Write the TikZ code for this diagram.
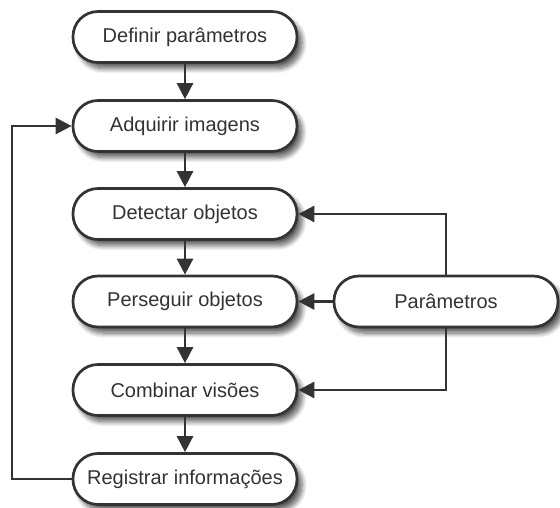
\documentclass[tikz,border=0pt]{standalone}
\usepackage{fontspec}
\setmainfont{Liberation Sans}
\usetikzlibrary{arrows.meta,shadows.blur}
\definecolor{ink}{HTML}{333333}
\tikzset{
  stepbox/.style={draw=ink, line width=2.7pt, fill=white,
    rounded corners=25pt, minimum width=224pt, minimum height=51pt,
    inner sep=0pt, text=ink, font=\fontsize{20}{23}\selectfont,
    blur shadow={shadow xshift=5pt, shadow yshift=-6pt,
      shadow blur steps=10, shadow blur radius=5pt, shadow opacity=65}},
  link/.style={draw=ink, line width=2.7pt,
    -{Triangle[length=16pt,width=16pt]}}
}
\begin{document}
\begin{tikzpicture}[x=1pt,y=-1pt]
  \useasboundingbox (0,0) rectangle (560,508);

  % main sequence of steps
  \node[stepbox] (def) at (185,37)  {Definir parâmetros};
  \node[stepbox] (acq) at (185,126) {Adquirir imagens};
  \node[stepbox] (det) at (185,214) {Detectar objetos};
  \node[stepbox] (trk) at (185,301.5) {Perseguir objetos};
  \node[stepbox] (cmb) at (185,390) {Combinar visões};
  \node[stepbox] (reg) at (185,479) {Registrar informações};

  % shared parameters box
  \node[stepbox] (par) at (446,301.5) {Parâmetros};

  % downward flow
  \draw[link] (def) -- (acq);
  \draw[link] (acq) -- (det);
  \draw[link] (det) -- (trk);
  \draw[link] (trk) -- (cmb);
  \draw[link] (cmb) -- (reg);

  % feedback loop back to acquisition
  \coordinate (loopx) at (12,0);
  \draw[link] (reg.west) -- (loopx |- reg.west) -- (loopx |- acq.west) -- (acq.west);

  % parameters feeding the processing steps
  \draw[link] (par.north) |- (det.east);
  \draw[link] (par.west) -- (trk.east);
  \draw[link] (par.south) |- (cmb.east);
\end{tikzpicture}
\end{document}
